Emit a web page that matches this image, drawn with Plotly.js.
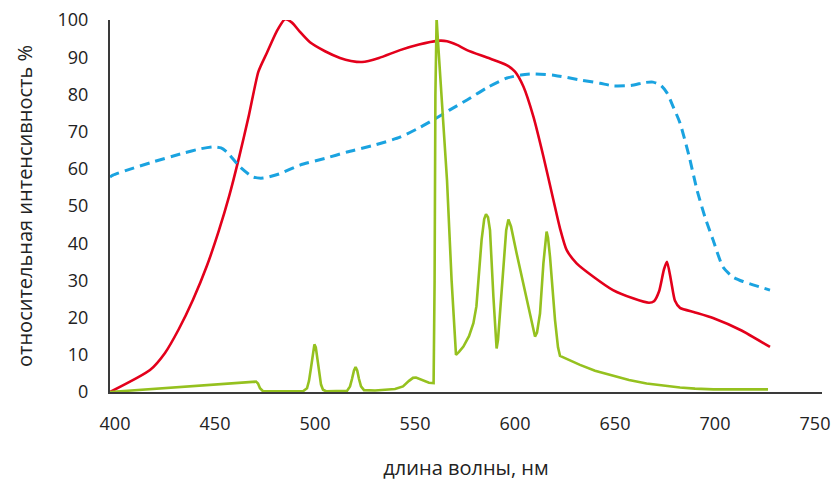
<!DOCTYPE html>
<html>
<head>
<meta charset="utf-8">
<script src="https://cdn.plot.ly/plotly-3.0.1.min.js"></script>
<style>html,body{margin:0;padding:0;background:#fff;}#chart{width:838px;height:482px;}</style>
</head>
<body>
<div id="chart"></div>
<script>
// Red curve (wavelength nm, relative intensity %)
const redX = [397.5, 417.5, 425, 432, 439, 446, 452, 457, 462, 467, 471.7, 475.8, 480.8, 485, 488.5, 492.5, 497.5, 505, 512.5, 518, 523.5, 532, 542.5, 552, 561, 566, 571, 576, 586, 595.8, 600, 604.2, 609.2, 614.2, 619.2, 622.5, 625.8, 630.8, 639.2, 649, 659, 667, 669.5, 672, 674.5, 676, 678, 680, 682.5, 690, 699, 713, 727.5];
const redY = [0, 5.9, 10.5, 17, 24.8, 34, 43.5, 52.5, 63, 74.5, 86.1, 91, 96.9, 100.2, 99.3, 96.8, 94, 91.6, 89.8, 89, 88.7, 89.8, 91.9, 93.4, 94.4, 94.3, 93.3, 91.9, 89.9, 87.9, 86.1, 82.1, 74, 63.3, 51.6, 44, 38.2, 34.6, 31, 27.4, 25.2, 24, 24.4, 27, 33, 35, 30, 24.5, 22.6, 21.4, 19.9, 16.6, 12.1];

// Blue dashed curve
const blueX = [397.5, 399, 408, 417.5, 434, 443, 449, 453, 456, 462.5, 469, 474, 482, 492.5, 505, 516, 530, 542.5, 552, 559, 567, 576, 586, 596, 603, 609, 620, 632.5, 642.5, 649, 658, 665, 669, 673, 676, 679, 682.5, 687, 691, 695, 699, 704, 709, 714, 719, 727.5];
const blueY = [57.8, 58.3, 60, 61.6, 64.2, 65.4, 65.9, 65.6, 64.5, 60.5, 57.8, 57.5, 58.6, 61, 62.8, 64.5, 66.4, 68.5, 71, 73.1, 75.7, 78.5, 81.8, 84.4, 85.2, 85.5, 85.1, 83.9, 83, 82.3, 82.4, 83.2, 83.3, 82.4, 80.4, 76.8, 72.3, 63.5, 54.3, 47, 40.9, 33.6, 30.9, 29.7, 28.8, 27.4];

// Green curve
const greenX = [397.5, 469.5, 470.5, 471.5, 472.5, 474, 494, 496, 497, 498, 499, 499.7, 500.4, 501.2, 502, 503, 504, 505.5, 516, 517.5, 518.5, 519.5, 520.3, 521.1, 522, 523, 524.5, 530, 540, 544, 547, 549, 550.5, 552, 554, 557, 559.3, 559.8, 560.2, 560.8, 561.4, 566, 568.3, 570.5, 572, 574.2, 577, 579.2, 580.7, 581.7, 583.3, 584.6, 585.5, 586.5, 587.5, 589.2, 590.2, 590.8, 591.5, 592.5, 594.2, 595.6, 596.7, 598, 600.8, 605.8, 609, 610, 611, 612.5, 614.2, 615.2, 615.8, 616.5, 617.5, 620, 621.5, 622.5, 627, 632.5, 640, 649.2, 657, 665.8, 674, 682.5, 690, 699.2, 712, 726.5];
const greenY = [0, 2.7, 2.8, 2.3, 1, 0.2, 0.2, 1, 3, 6.5, 10.8, 12.8, 12, 9, 5, 2, 0.6, 0.2, 0.3, 1.5, 3.5, 5.8, 6.7, 5.8, 3.5, 1.5, 0.5, 0.4, 0.8, 1.5, 3, 3.8, 3.9, 3.6, 3.1, 2.5, 2.4, 30, 80, 100.5, 95, 57, 30, 10, 10.8, 12.2, 15, 18.5, 23, 30, 40.9, 46.5, 47.8, 47, 43.5, 25.6, 15, 11.7, 14, 21.1, 34.6, 43.5, 46.4, 44.5, 37.3, 25.6, 17.5, 14.9, 16, 21.1, 34.6, 41.5, 43.1, 41.5, 36.4, 19.4, 12, 9.7, 8.6, 7.3, 5.7, 4.4, 3.2, 2.3, 1.7, 1.2, 0.9, 0.7, 0.7, 0.7];

// Axis ticks
const xTicks = [400, 450, 500, 550, 600, 650, 700, 750];
const yTicks = [0, 10, 20, 30, 40, 50, 60, 70, 80, 90, 100];

const traces = [
  {x: redX, y: redY, type: 'scatter', mode: 'lines', line: {color: '#e3001b', width: 2.6, shape: 'spline', smoothing: 0.6}, hoverinfo: 'skip'},
  {x: blueX, y: blueY, type: 'scatter', mode: 'lines', line: {color: '#1aa3e0', width: 3, dash: '10px,6px', shape: 'spline', smoothing: 0.6}, hoverinfo: 'skip'},
  {x: greenX, y: greenY, type: 'scatter', mode: 'lines', line: {color: '#95c11f', width: 2.6, shape: 'linear'}, hoverinfo: 'skip'}
];

const layout = {
  width: 838, height: 482,
  margin: {l: 110, r: 16, t: 20, b: 90},
  paper_bgcolor: '#fff', plot_bgcolor: '#fff',
  showlegend: false,
  font: {family: '"Open Sans", "DejaVu Sans", sans-serif', color: '#222', size: 18},
  xaxis: {
    range: [397.5, 753.5],
    tickvals: xTicks, ticktext: xTicks.map(String),
    showgrid: false, zeroline: false,
    showline: true, linecolor: '#3a3a3a', linewidth: 2,
    ticks: '', ticklabelstandoff: 14,
    tickfont: {size: 18, color: '#222'},
    title: {text: 'длина волны, нм', font: {size: 20, color: '#222'}, standoff: 27}
  },
  yaxis: {
    range: [0, 100],
    tickvals: yTicks, ticktext: yTicks.map(String),
    showgrid: false, zeroline: false,
    showline: true, linecolor: '#3a3a3a', linewidth: 2,
    ticks: '', ticklabelstandoff: 16,
    tickfont: {size: 18, color: '#222'},
    title: {text: 'относительная интенсивность %', font: {size: 20, color: '#222'}, standoff: 20}
  }
};

Plotly.newPlot('chart', traces, layout, {displayModeBar: false, staticPlot: true});
</script>
</body>
</html>
